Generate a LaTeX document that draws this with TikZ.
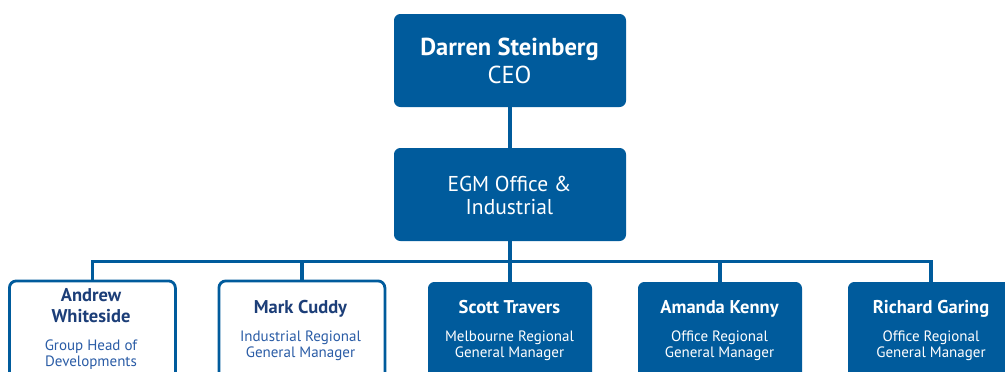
\documentclass[tikz,border=0pt]{standalone}
\usepackage{fontspec}
\setmainfont{PT Sans}
\definecolor{dblue}{RGB}{0,91,156}
\definecolor{navy}{RGB}{28,62,120}
\definecolor{mblue}{RGB}{42,92,166}
\tikzset{
  conn/.style={draw=dblue,line width=3.2pt},
  bluebox/.style={draw=dblue,fill=dblue,rounded corners=6pt,line width=1pt,anchor=north west,inner sep=0pt},
  whitebox/.style={draw=dblue,fill=white,rounded corners=7pt,line width=2.8pt,anchor=north west,inner sep=0pt},
  txt/.style={anchor=base,inner sep=0pt},
}
\begin{document}
\begin{tikzpicture}[x=1pt,y=-1pt]
\useasboundingbox (0,0) rectangle (1005,372);
\clip (0,0) rectangle (1005,372);
% boxes
\node[bluebox,minimum width=231pt,minimum height=92pt] (ceo) at (394,14) {};
\node[bluebox,minimum width=231pt,minimum height=92pt] (egm) at (394,148) {};
\node[whitebox,minimum width=166pt,minimum height=110pt] (aw) at (8,279.5) {};
\node[whitebox,minimum width=166pt,minimum height=110pt] (mc) at (217.5,279.5) {};
\node[bluebox,minimum width=163pt,minimum height=110pt] (st) at (428,282) {};
\node[bluebox,minimum width=163pt,minimum height=110pt] (ak) at (638,282) {};
\node[bluebox,minimum width=166pt,minimum height=110pt] (rg) at (848,282) {};
% connectors
\coordinate (bus) at (0,261.5);
\coordinate (rgtop) at (931,282);
\draw[conn] (ceo.south) -- (egm.north);
\draw[conn] (egm.south) -- (egm.south |- bus);
\draw[conn,line join=miter] (aw.north) -- (aw.north |- bus) -- (rgtop |- bus) -- (rgtop);
\draw[conn] (mc.north) -- (mc.north |- bus);
\draw[conn] (st.north) -- (st.north |- bus);
\draw[conn] (ak.north) -- (ak.north |- bus);
% texts
\node[txt,text=white,font=\bfseries\fontsize{24.5}{28}\selectfont] (t1) at (509.5,55) {Darren Steinberg};
\node[txt,text=white,font=\fontsize{24.5}{28}\selectfont] (t2) at (509.5,83) {CEO};
\node[txt,text=white,font=\fontsize{21.5}{24}\selectfont] (t3) at (509.5,191) {EGM Office \&};
\node[txt,text=white,font=\fontsize{21.5}{24}\selectfont] (t4) at (509.5,214) {Industrial};
\tikzset{nm/.style={txt,font=\bfseries\fontsize{18.5}{20}\selectfont},
         sb/.style={txt,font=\fontsize{15}{16}\selectfont}}
\node[nm,text=navy] (a1) at (91,301) {Andrew};
\node[nm,text=navy] (a2) at (91,322) {Whiteside};
\node[sb,text=mblue] (a3) at (91,350) {Group Head of};
\node[sb,text=mblue] (a4) at (91,366) {Developments};
\node[nm,text=navy] (m1) at (300.5,313) {Mark Cuddy};
\node[sb,text=mblue] (m2) at (300.5,341) {Industrial Regional};
\node[sb,text=mblue] (m3) at (300.5,357) {General Manager};
\node[nm,text=white] (s1) at (509.5,313) {Scott Travers};
\node[sb,text=white] (s2) at (509.5,341) {Melbourne Regional};
\node[sb,text=white] (s3) at (509.5,357) {General Manager};
\node[nm,text=white] (k1) at (719.5,313) {Amanda Kenny};
\node[sb,text=white] (k2) at (719.5,341) {Office Regional};
\node[sb,text=white] (k3) at (719.5,357) {General Manager};
\node[nm,text=white] (r1) at (931,313) {Richard Garing};
\node[sb,text=white] (r2) at (931,341) {Office Regional};
\node[sb,text=white] (r3) at (931,357) {General Manager};
\end{tikzpicture}
\end{document}
